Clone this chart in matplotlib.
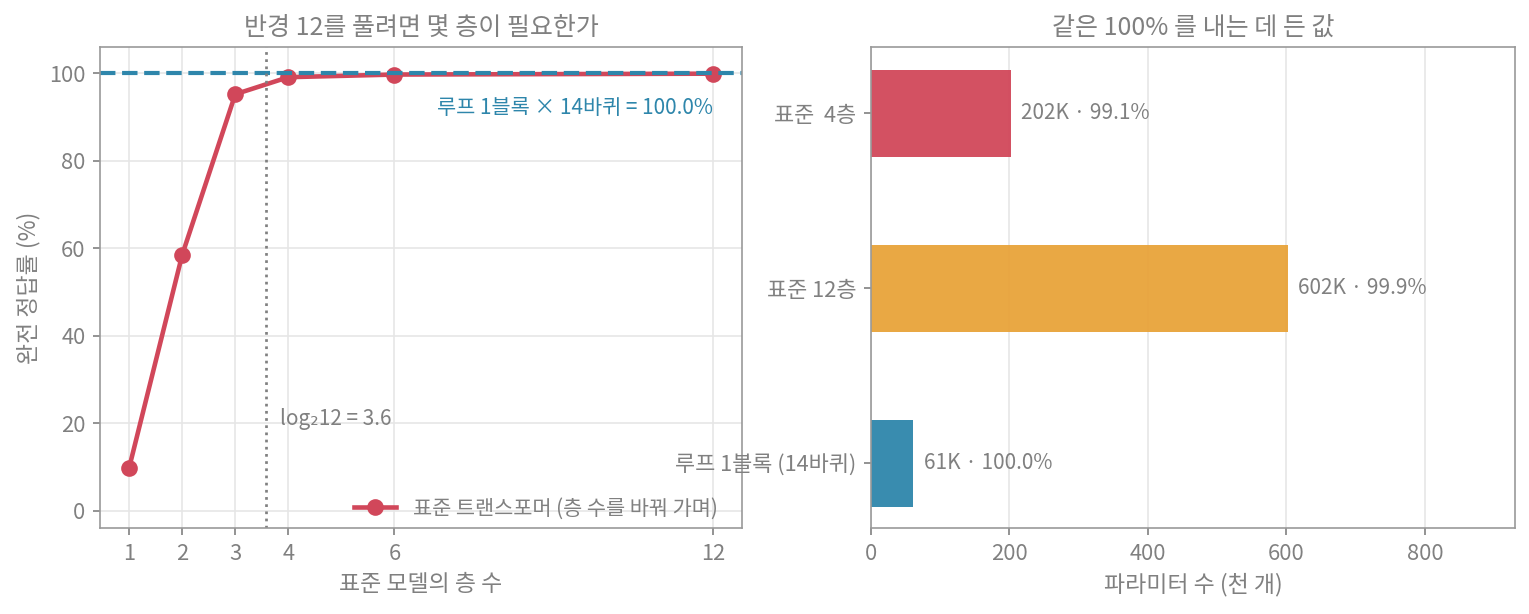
import matplotlib
matplotlib.use("Agg")
import matplotlib.pyplot as plt

plt.rcParams['font.family'] = ['Noto Sans CJK KR', 'DejaVu Sans']
GREY = '#808080'
plt.rcParams.update({'text.color': GREY, 'axes.labelcolor': GREY, 'xtick.color': GREY,
                     'ytick.color': GREY, 'axes.edgecolor': '#999999'})

layers = [1, 2, 3, 4, 6, 12]
acc = [9.8, 58.5, 95.2, 99.1, 99.7, 99.9]
loop_acc = 100.0

bar_labels = ['루프 1블록 (14바퀴)', '표준 12층', '표준  4층']
params_k = [61, 602, 202]
bar_acc = [100.0, 99.9, 99.1]
RED, ORANGE, BLUE = '#d1475a', '#e8a33a', '#2e86ab'
bar_colors = [BLUE, ORANGE, RED]

fig = plt.figure(figsize=(1529/150, 614/150), dpi=150)
ax1 = fig.add_axes([100/1529, 86/614, 642/1529, 481/614])
ax2 = fig.add_axes([871/1529, 86/614, 644/1529, 481/614])

ax1.plot(layers, acc, '-o', color=RED, lw=2.2, ms=7, label='표준 트랜스포머 (층 수를 바꿔 가며)')
ax1.axhline(loop_acc, color=BLUE, ls='--', lw=2)
ax1.axvline(3.585, color=GREY, ls=':', lw=1.3)
ax1.text(3.85, 21, 'log₂12 = 3.6', fontsize=10, color=GREY, va='center')
ax1.text(12, 94.5, '루프 1블록 × 14바퀴 = 100.0%', fontsize=10, color=BLUE, ha='right', va='top')
ax1.set_xlim(0.45, 12.55)
ax1.set_ylim(-4, 106)
ax1.set_xticks(layers)
ax1.set_yticks([0, 20, 40, 60, 80, 100])
ax1.grid(True, color='#e6e6e6', lw=0.8)
ax1.set_axisbelow(True)
ax1.set_xlabel('표준 모델의 층 수', fontsize=11)
ax1.set_ylabel('완전 정답률 (%)', fontsize=11)
ax1.set_title('반경 12를 풀려면 몇 층이 필요한가', fontsize=12, color=GREY)
ax1.legend(loc='lower right', frameon=False, fontsize=10, borderaxespad=0.0,
           bbox_to_anchor=(0.975, 0.0))

ypos = list(range(len(params_k)))
ax2.barh(ypos, params_k, color=bar_colors, height=0.5, alpha=0.95)
for y, p, a in zip(ypos, params_k, bar_acc):
    ax2.text(p + 15, y, f'{p}K · {a:.1f}%', va='center', fontsize=10, color=GREY)
ax2.set_yticks(ypos)
ax2.set_yticklabels(bar_labels, fontsize=11)
ax2.set_xlim(0, 930)
ax2.set_ylim(-0.37, 2.38)
ax2.set_xticks([0, 200, 400, 600, 800])
ax2.grid(True, axis='x', color='#e6e6e6', lw=0.8)
ax2.set_axisbelow(True)
ax2.set_xlabel('파라미터 수 (천 개)', fontsize=11)
ax2.set_title('같은 100% 를 내는 데 든 값', fontsize=12, color=GREY)

for ax in (ax1, ax2):
    ax.tick_params(labelsize=10.5)

fig.savefig('out.png', dpi=150)
